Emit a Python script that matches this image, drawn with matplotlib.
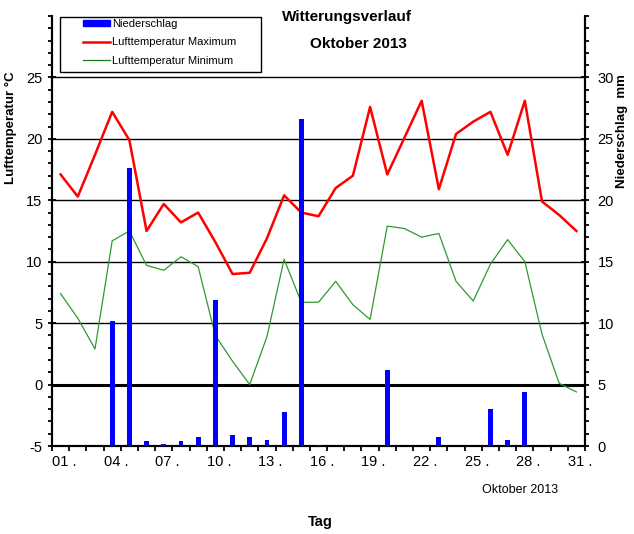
import numpy as np
import matplotlib
matplotlib.use("Agg")
import matplotlib.pyplot as plt
from matplotlib.patches import Patch, Rectangle
from matplotlib.lines import Line2D

plt.rcParams['font.family'] = ['Liberation Sans', 'DejaVu Sans']
plt.rcParams['axes.unicode_minus'] = False

# daily values, October 2013
days = np.arange(1, 32)
t_max = [17.1, 15.3, 18.7, 22.2, 19.9, 12.5, 14.7, 13.2, 14.0, 11.6,
         9.0, 9.1, 11.9, 15.4, 14.0, 13.7, 16.0, 17.0, 22.6, 17.1,
         20.1, 23.1, 15.9, 20.4, 21.4, 22.2, 18.7, 23.1, 14.9, 13.8, 12.5]
t_min = [7.4, 5.4, 2.9, 11.7, 12.5, 9.7, 9.3, 10.4, 9.6, 4.0,
         1.9, 0.0, 3.9, 10.2, 6.7, 6.7, 8.4, 6.5, 5.3, 12.9,
         12.7, 12.0, 12.3, 8.4, 6.8, 9.8, 11.8, 10.0, 4.1, 0.1, -0.6]
rain = [0, 0, 0, 10.2, 22.6, 0.4, 0.2, 0.4, 0.7, 11.9,
        0.9, 0.7, 0.5, 2.8, 26.6, 0.1, 0, 0, 0, 6.2,
        0, 0, 0.7, 0, 0, 3.0, 0.5, 4.4, 0, 0, 0]
label_days = [1, 4, 7, 10, 13, 16, 19, 22, 25, 28, 31]

W, H = 634, 534
fig = plt.figure(figsize=(W / 100, H / 100), dpi=100)
ax = fig.add_axes([52 / W, 1 - 446 / H, (585 - 52) / W, (446 - 16) / H])
ax2 = ax.twinx()

# grid
for g in [5, 10, 15, 20, 25]:
    ax.axhline(g, color='black', lw=1.0, zorder=1)
ax.axhline(0, color='black', lw=2.2, zorder=1)

ax.plot(days, t_max, color='#ff0000', lw=1.8, zorder=3)
ax.plot(days, t_min, color='#2e9a2e', lw=0.9, zorder=3)
ax2.bar(days, rain, width=0.28, color='#0000ff', zorder=3)

ax.set_xlim(0.5, 31.5)
ax.set_ylim(-5, 30)
ax2.set_ylim(0, 35)

ax.set_yticks([-5, 0, 5, 10, 15, 20, 25])
ax.set_yticks(np.arange(-5, 31, 1), minor=True)
ax2.set_yticks([0, 5, 10, 15, 20, 25, 30])
ax2.set_yticks(np.arange(0, 36, 1), minor=True)

bounds = np.arange(0.5, 32, 1)
ax.set_xticks(bounds)
labels = []
for b in bounds:
    d = int(b + 0.5)
    labels.append('%02d .' % d if d in label_days else '')
ax.set_xticklabels(labels, ha='left', fontsize=10.5)

ax.tick_params(axis='x', direction='out', length=3.6, width=1.3, pad=3)
ax.tick_params(axis='y', which='major', direction='inout', length=6, width=1.3,
               pad=4, labelsize=10.5)
ax.tick_params(axis='y', which='minor', direction='out', length=3, width=1.3)
ax2.tick_params(axis='y', which='major', direction='inout', length=6, width=1.3,
                pad=6, labelsize=10.5)
ax2.tick_params(axis='y', which='minor', direction='out', length=3, width=1.3)

for a in (ax, ax2):
    a.spines['top'].set_visible(False)
    for s in ('left', 'right', 'bottom'):
        a.spines[s].set_linewidth(1.5)

# texts
fig.text(347 / W, 1 - 17 / H, 'Witterungsverlauf', ha='center', va='center',
         fontsize=11, fontweight='bold')
fig.text(358 / W, 1 - 44 / H, 'Oktober 2013', ha='center', va='center',
         fontsize=11, fontweight='bold')
fig.text(11 / W, 1 - 128 / H, 'Lufttemperatur °C', rotation=90, ha='center',
         va='center', fontsize=9.5, fontweight='bold')
fig.text(622 / W, 1 - 131 / H, 'Niederschlag  mm', rotation=90, ha='center',
         va='center', fontsize=9.5, fontweight='bold')
fig.text(520 / W, 1 - 490 / H, 'Oktober 2013', ha='center', va='center',
         fontsize=9)
fig.text(320 / W, 1 - 522 / H, 'Tag', ha='center', va='center',
         fontsize=10.5, fontweight='bold')

# legend
fig.patches.append(Rectangle((60 / W, 1 - 72 / H), 201 / W, 55 / H,
                             transform=fig.transFigure, fill=False,
                             edgecolor='black', lw=1.0))
handles = [Patch(color='#0000ff'),
           Line2D([], [], color='#ff0000', lw=1.8),
           Line2D([], [], color='#1e7a1e', lw=0.9)]
names = ['Niederschlag', 'Lufttemperatur Maximum', 'Lufttemperatur Minimum']
fig.legend(handles, names, loc='upper left',
           bbox_to_anchor=(83 / W, 1 - 19 / H), frameon=False,
           fontsize=8, handlelength=2.4, handleheight=0.5,
           handletextpad=0.2, labelspacing=0.75, borderpad=0,
           borderaxespad=0)

fig.savefig('out.png', dpi=100)
